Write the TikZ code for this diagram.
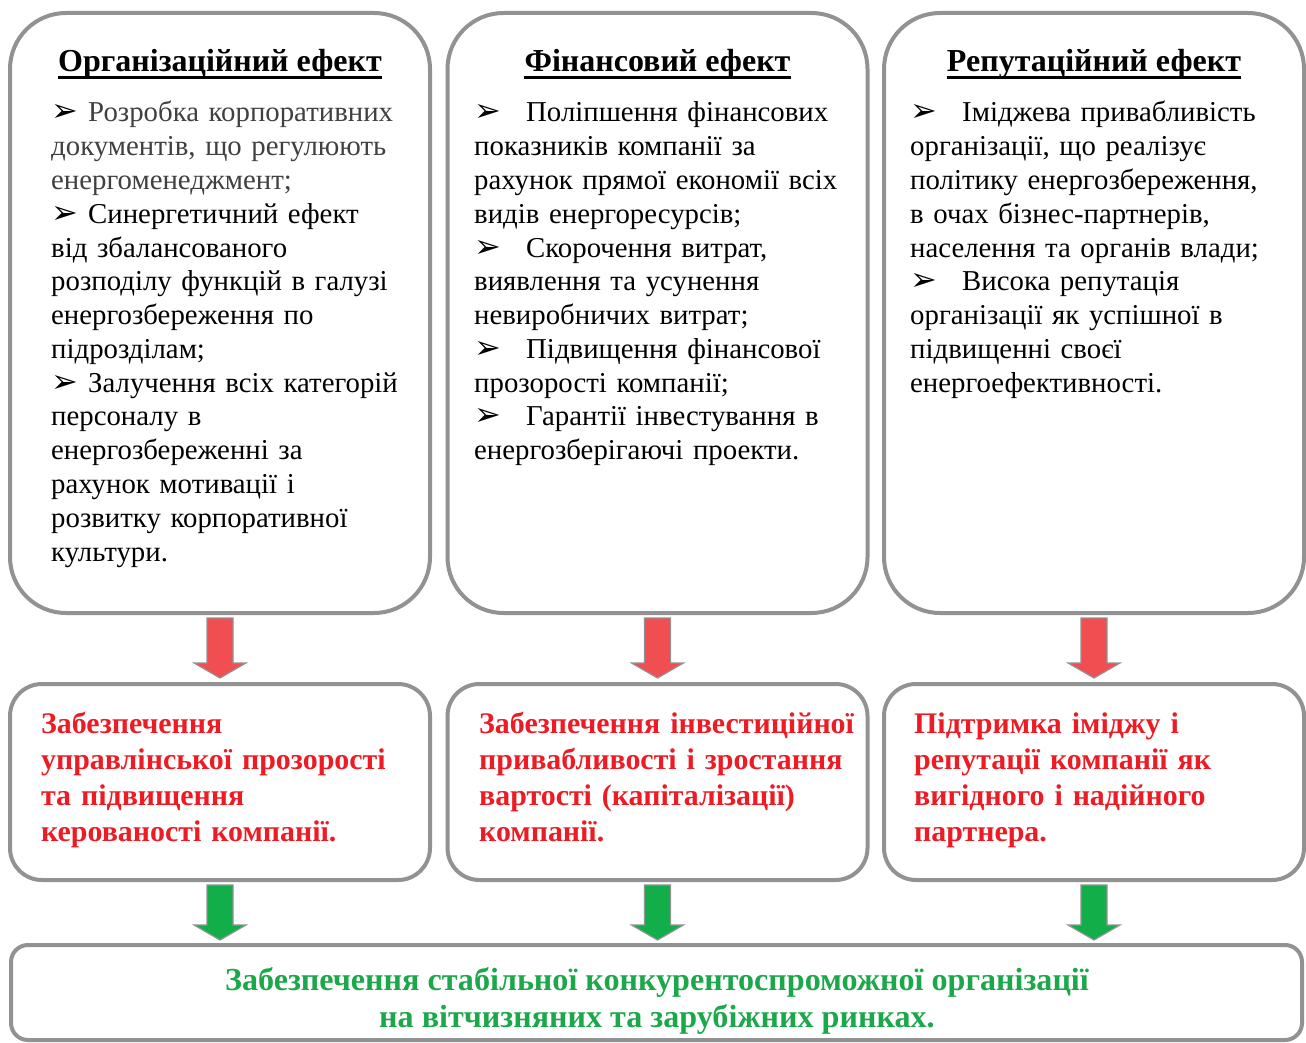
\documentclass[tikz,border=0pt]{standalone}
\usepackage{fontspec}
\setmainfont{Liberation Serif}
\newfontfamily\dingfont{DejaVu Sans}
\usetikzlibrary{calc}
\definecolor{frame}{RGB}{146,146,146}
\definecolor{effred}{RGB}{237,28,36}
\definecolor{arrred}{RGB}{240,78,80}
\definecolor{arrgreen}{RGB}{18,174,74}
\definecolor{effgreen}{RGB}{28,168,74}
\definecolor{softtext}{RGB}{64,64,64}
\newcommand\arrowbullet[1]{\makebox[#1][l]{\dingfont\fontsize{32}{32}\selectfont ➢}}
\tikzset{
  bigbox/.style={draw=frame, line width=4pt, rounded corners=56pt, minimum width=420pt, minimum height=600pt, inner sep=0pt},
  midbox/.style={draw=frame, line width=4pt, rounded corners=32pt, minimum width=420pt, minimum height=196pt, inner sep=0pt},
  basebox/.style={draw=frame, line width=4pt, rounded corners=17pt, minimum width=1291pt, minimum height=95pt, inner sep=0pt},
  heading/.style={font=\fontsize{32}{32}\selectfont\bfseries, inner sep=0pt, anchor=base},
  bodytext/.style={font=\fontsize{28.8}{33.77}\selectfont, inner sep=0pt, anchor=base west, text width=395pt, align=left},
  redtext/.style={font=\fontsize{29.9}{36}\selectfont\bfseries, text=effred, inner sep=0pt, anchor=base west, text width=410pt, align=left},
  greentext/.style={font=\fontsize{32.1}{37}\selectfont\bfseries, text=effgreen, inner sep=0pt, anchor=base, align=center},
  uline/.style={line width=2.7pt},
  redarrow/.style={draw=frame, line width=1.2pt, fill=arrred},
  greenarrow/.style={draw=frame, line width=1.2pt, fill=arrgreen},
}
% block arrow from the bottom of one box towards the top of the next
% #1 style, #2 start node anchor, #3 shaft length, #4 head length
\newcommand\blockarrow[4]{%
  \path let \p1=(#2) in
    [#1] (\x1-13pt,\y1-3pt) -- (\x1+13pt,\y1-3pt) -- (\x1+13pt,\y1-3pt-#3) --
    (\x1+26pt,\y1-3pt-#3) -- (\x1,\y1-3pt-#3-#4) -- (\x1-26pt,\y1-3pt-#3) --
    (\x1-13pt,\y1-3pt-#3) -- cycle;}
\begin{document}
\begin{tikzpicture}[x=1pt,y=-1pt]
\useasboundingbox (0,0) rectangle (1306,1043);

% upper boxes with the three effects
\node[bigbox] (t1) at (220,313) {};
\node[bigbox] (t2) at (657.5,313) {};
\node[bigbox] (t3) at (1094,313) {};

\node[heading] (h1) at (220,72) {Організаційний ефект};
\node[heading] (h2) at (657.5,72) {Фінансовий ефект};
\node[heading] (h3) at (1094,72) {Репутаційний ефект};
\foreach \h in {h1,h2,h3}
  \draw[uline] ([yshift=-5.8pt]\h.base west) -- ([yshift=-5.8pt]\h.base east);

\node[bodytext] (b1) at (51,122) {%
\arrowbullet{37pt}\textcolor{softtext}{Розробка корпоративних}\\
\textcolor{softtext}{документів, що регулюють}\\
\textcolor{softtext}{енергоменеджмент;}\\
\arrowbullet{37pt}Синергетичний ефект\\
від збалансованого\\
розподілу функцій в галузі\\
енергозбереження по\\
підрозділам;\\
\arrowbullet{37pt}Залучення всіх категорій\\
персоналу в\\
енергозбереженні за\\
рахунок мотивації і\\
розвитку корпоративної\\
культури.};

\node[bodytext] (b2) at (474,122) {%
\arrowbullet{52pt}Поліпшення фінансових\\
показників компанії за\\
рахунок прямої економії всіх\\
видів енергоресурсів;\\
\arrowbullet{52pt}Скорочення витрат,\\
виявлення та усунення\\
невиробничих витрат;\\
\arrowbullet{52pt}Підвищення фінансової\\
прозорості компанії;\\
\arrowbullet{52pt}Гарантії інвестування в\\
енергозберігаючі проекти.};

\node[bodytext] (b3) at (910,122) {%
\arrowbullet{52pt}Іміджева привабливість\\
організації, що реалізує\\
політику енергозбереження,\\
в очах бізнес-партнерів,\\
населення та органів влади;\\
\arrowbullet{52pt}Висока репутація\\
організації як успішної в\\
підвищенні своєї\\
енергоефективності.};

% middle boxes with the resulting outcomes
\node[midbox] (m1) at (220,782) {};
\node[midbox] (m2) at (657.5,782) {};
\node[midbox] (m3) at (1094,782) {};

\node[redtext] (r1) at (41,733) {Забезпечення\\управлінської прозорості\\та підвищення\\керованості компанії.};
\node[redtext] (r2) at (479,733) {Забезпечення інвестиційної\\привабливості і зростання\\вартості (капіталізації)\\компанії.};
\node[redtext] (r3) at (914,733) {Підтримка іміджу і\\репутації компанії як\\вигідного і надійного\\партнера.};

% bottom box with the overall result
\node[basebox] (g) at (656.5,992.5) {};
\node[greentext] (gt) at (657,1027) {Забезпечення стабільної конкурентоспроможної організації\\на вітчизняних та зарубіжних ринках.};

% connecting block arrows
\blockarrow{redarrow}{t1.south}{45pt}{15pt}
\blockarrow{redarrow}{t2.south}{45pt}{15pt}
\blockarrow{redarrow}{t3.south}{45pt}{15pt}
\blockarrow{greenarrow}{m1.south}{40pt}{15pt}
\blockarrow{greenarrow}{m2.south}{40pt}{15pt}
\blockarrow{greenarrow}{m3.south}{40pt}{15pt}
\end{tikzpicture}
\end{document}
